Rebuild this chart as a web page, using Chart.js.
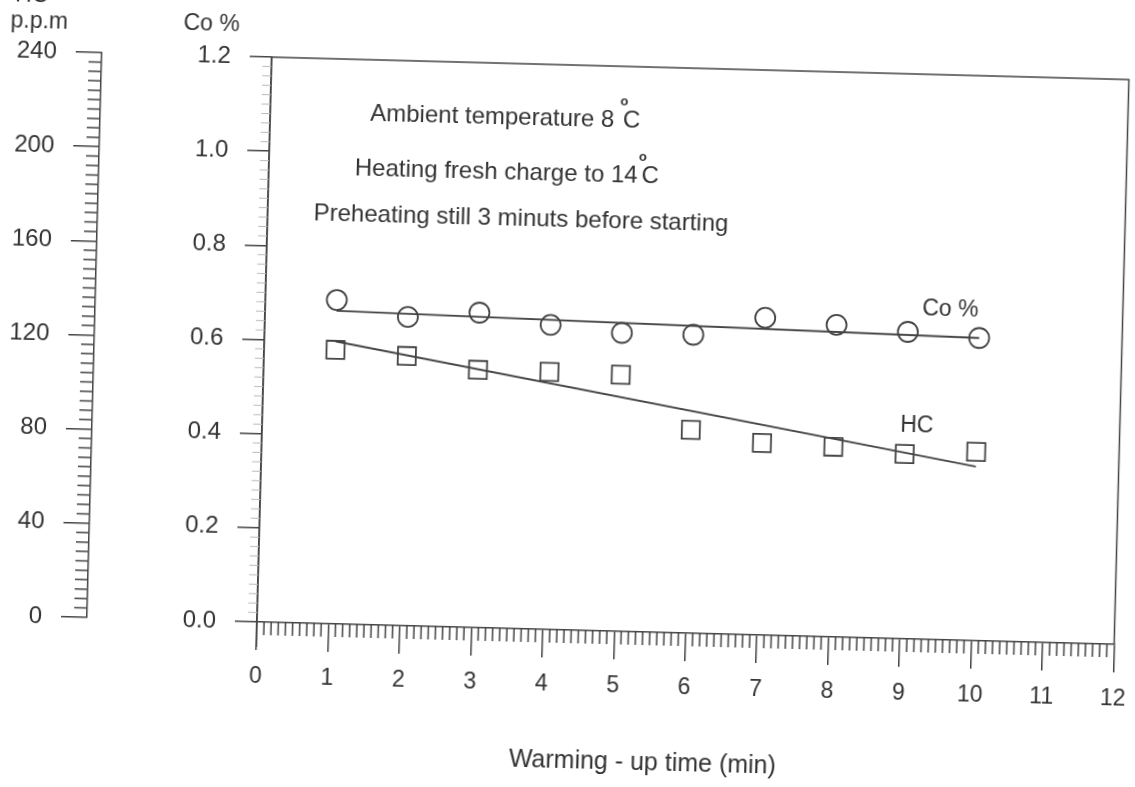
<!DOCTYPE html>
<html>
<head>
<meta charset="utf-8">
<script src="https://cdn.jsdelivr.net/npm/chart.js@4.4.0/dist/chart.umd.min.js"></script>
<style>
  html, body { margin: 0; padding: 0; background: #fff; overflow: hidden; }
  /* the scanned figure sits slightly rotated on the page */
  #wrap { width: 1135px; height: 787px; transform: rotate(1.5deg); transform-origin: 50% 50%; }
</style>
</head>
<body>
<div id="wrap"><canvas id="warmupChart" width="1135" height="787"></canvas></div>
<script>
// measured points (warming-up time in minutes)
const minutes = [1, 2, 3, 4, 5, 6, 7, 8, 9, 10];
const coPercent = [0.688, 0.656, 0.669, 0.647, 0.634, 0.634, 0.674, 0.663, 0.652, 0.643];
const hcPpm = [116.4, 114.6, 109.5, 109.4, 109.0, 86.4, 81.6, 80.8, 78.5, 80.2];

// hand-drawn trend lines
const coFitX = [1, 10];
const coFitY = [0.665, 0.643];
const hcFitX = [1, 10];
const hcFitY = [120, 74];

// axis ticks
const xTicks = [0, 1, 2, 3, 4, 5, 6, 7, 8, 9, 10, 11, 12];
const coTicks = [0, 0.2, 0.4, 0.6, 0.8, 1.0, 1.2];
const ppmTicks = [0, 40, 80, 120, 160, 200, 240];

const ink = '#444';
const textInk = '#333';
const FONT = "'Liberation Sans', Arial, sans-serif";
Chart.defaults.font.family = FONT;
Chart.defaults.color = textInk;

function toPoints(xs, ys) {
  return xs.map((x, i) => ({ x: x, y: ys[i] }));
}

function setTicks(values) {
  return scale => { scale.ticks = values.map(v => ({ value: v })); };
}

// text with a small raised "o" over the C (degree sign as printed)
function degreeNote(ctx, prefix, x, y, gap) {
  ctx.font = '24px ' + FONT;
  ctx.textAlign = 'left';
  ctx.fillText(prefix, x, y);
  const cx = x + ctx.measureText(prefix).width + gap;
  ctx.fillText('C', cx, y);
  ctx.font = 'bold 13px ' + FONT;
  ctx.textAlign = 'center';
  ctx.fillText('o', cx + 1, y - 22);
}

const paperMarks = {
  id: 'paperMarks',
  afterDraw(chart) {
    const { ctx, chartArea: a, scales } = chart;
    ctx.save();
    ctx.strokeStyle = ink;
    ctx.lineWidth = 1.5;

    // plot frame, left axis runs a bit below the time axis
    ctx.beginPath();
    ctx.moveTo(a.left, a.bottom + 25);
    ctx.lineTo(a.left, a.top);
    ctx.lineTo(a.right, a.top);
    ctx.lineTo(a.right, a.bottom);
    ctx.stroke();

    // minor ticks on the time axis
    const xs = scales.x;
    ctx.beginPath();
    for (let i = 0; i <= 120; i++) {
      if (i % 10 === 0) continue;
      const px = xs.getPixelForValue(i / 10);
      ctx.moveTo(px, xs.top);
      ctx.lineTo(px, xs.top + 13);
    }
    ctx.stroke();

    // minor ticks on the p.p.m axis
    const yp = scales.y2;
    ctx.beginPath();
    for (let v = 0; v <= 240; v += 4) {
      if (v % 40 === 0) continue;
      const py = yp.getPixelForValue(v);
      ctx.moveTo(yp.right - 13, py);
      ctx.lineTo(yp.right, py);
    }
    ctx.stroke();

    // faint minor ticks on the Co % axis
    const yc = scales.y;
    ctx.strokeStyle = '#bbb';
    ctx.lineWidth = 1;
    ctx.beginPath();
    for (let i = 0; i <= 60; i++) {
      if (i % 10 === 0) continue;
      const py = yc.getPixelForValue(i / 50);
      ctx.moveTo(yc.right - 9, py);
      ctx.lineTo(yc.right, py);
    }
    ctx.stroke();

    // texts
    ctx.fillStyle = textInk;
    ctx.textBaseline = 'alphabetic';
    ctx.font = '23px ' + FONT;
    ctx.textAlign = 'left';
    ctx.fillText('HC', 5, 16);
    ctx.fillText('p.p.m', 1, 42);
    ctx.fillText('Co %', 174, 40);
    ctx.fillText('Co %', 920, 306);
    ctx.fillText('HC', 901, 423);

    degreeNote(ctx, 'Ambient temperature 8 ', 363, 126, 2);
    degreeNote(ctx, 'Heating fresh charge to 14', 349, 181, 4);
    ctx.font = '24px ' + FONT;
    ctx.textAlign = 'left';
    ctx.fillText('Preheating still 3 minuts before starting', 309, 227);

    ctx.font = '25px ' + FONT;
    ctx.textAlign = 'center';
    ctx.fillText('Warming - up time (min)', 652, 768);
    ctx.restore();
  }
};

const ctx = document.getElementById('warmupChart');
new Chart(ctx, {
  type: 'scatter',
  data: {
    datasets: [
      {
        label: 'Co %',
        data: toPoints(minutes, coPercent),
        yAxisID: 'y',
        pointStyle: 'circle',
        pointRadius: 10,
        borderColor: ink,
        borderWidth: 1.8,
        backgroundColor: 'rgba(0,0,0,0)'
      },
      {
        label: 'HC',
        data: toPoints(minutes, hcPpm),
        yAxisID: 'y2',
        pointStyle: 'rect',
        pointRadius: 12.7,
        borderColor: ink,
        borderWidth: 1.8,
        backgroundColor: 'rgba(0,0,0,0)'
      },
      {
        label: 'Co % trend',
        data: toPoints(coFitX, coFitY),
        yAxisID: 'y',
        showLine: true,
        pointRadius: 0,
        borderColor: ink,
        borderWidth: 1.8
      },
      {
        label: 'HC trend',
        data: toPoints(hcFitX, hcFitY),
        yAxisID: 'y2',
        showLine: true,
        pointRadius: 0,
        borderColor: ink,
        borderWidth: 1.8
      }
    ]
  },
  options: {
    responsive: false,
    animation: false,
    devicePixelRatio: 1,
    layout: { padding: { top: 65, right: 14, bottom: 0, left: 0 } },
    plugins: {
      legend: { display: false },
      tooltip: { enabled: false }
    },
    scales: {
      x: {
        type: 'linear',
        position: 'bottom',
        min: 0,
        max: 12,
        afterBuildTicks: setTicks(xTicks),
        afterFit: s => { s.height = 157; s.paddingLeft = 0; s.paddingRight = 0; },
        grid: { drawOnChartArea: false, tickLength: 28, color: ink, lineWidth: 1.5 },
        border: { display: true, color: ink, width: 1.5 },
        ticks: { font: { size: 23 }, padding: 13, color: textInk }
      },
      y: {
        type: 'linear',
        position: 'left',
        weight: 0,
        min: 0,
        max: 1.2,
        afterBuildTicks: setTicks(coTicks),
        afterFit: s => { s.width = 170; },
        grid: { drawOnChartArea: false, tickLength: 22, color: ink, lineWidth: 1.5 },
        border: { display: true, color: ink, width: 1.5 },
        ticks: { font: { size: 24 }, padding: 19, color: textInk, callback: v => v.toFixed(1) }
      },
      y2: {
        type: 'linear',
        position: 'left',
        weight: 1,
        min: 0,
        max: 240,
        afterBuildTicks: setTicks(ppmTicks),
        afterFit: s => { s.width = 93; },
        grid: { drawOnChartArea: false, tickLength: 26, color: ink, lineWidth: 1.5 },
        border: { display: true, color: ink, width: 1.5 },
        ticks: { font: { size: 24 }, padding: 19, color: textInk }
      }
    }
  },
  plugins: [paperMarks]
});
</script>
</body>
</html>
